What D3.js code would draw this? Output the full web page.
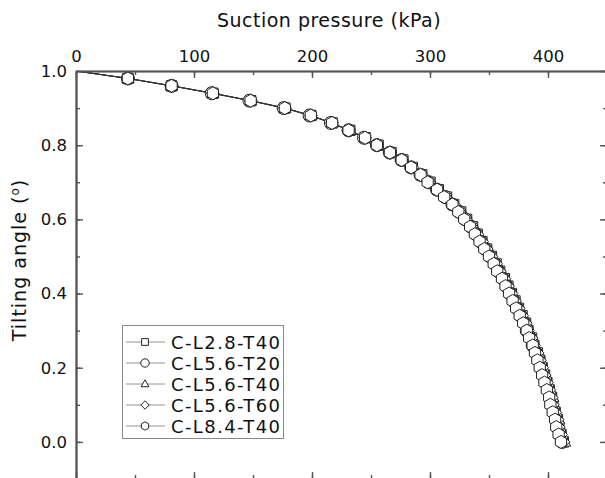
<!DOCTYPE html>
<html>
<head>
<meta charset="utf-8">
<script src="https://cdn.jsdelivr.net/npm/d3@7"></script>
<style>
  body { margin: 0; background: #fff; }
  svg { display: block; font-family: "DejaVu Sans", Verdana, sans-serif; }
</style>
</head>
<body>
<svg></svg>
<script>
var width = 605, height = 478;
var svg = d3.select("svg").attr("width", width).attr("height", height);

// tilting angle (deg), shared by every series
var tilt = [1.00, 0.98, 0.96, 0.94, 0.92, 0.90, 0.88, 0.86, 0.84, 0.82,
            0.80, 0.78, 0.76, 0.74, 0.72, 0.70, 0.68, 0.66, 0.64, 0.62,
            0.60, 0.58, 0.56, 0.54, 0.52, 0.50, 0.48, 0.46, 0.44, 0.42,
            0.40, 0.38, 0.36, 0.34, 0.32, 0.30, 0.28, 0.26, 0.24, 0.22,
            0.20, 0.18, 0.16, 0.14, 0.12, 0.10, 0.08, 0.06, 0.04, 0.02, 0.00];

// suction pressure (kPa) per series
var sL28T40 = [0, 44, 81, 116, 148, 177, 199, 217, 232, 245, 256, 267, 277, 285, 293, 300, 307, 314, 320, 326,
               331, 336, 340, 344, 348, 352, 356, 359, 363, 366, 369, 372, 375, 378, 381, 383, 386, 388, 391, 393,
               395, 397, 399, 401, 403, 404, 406, 408, 409, 411, 413];
var sL56T20 = [0, 44, 81, 115, 147, 176, 198, 216, 231, 244, 255, 266, 276, 284, 292, 299, 306, 313, 319, 325,
               330, 335, 339, 343, 347, 351, 355, 358, 362, 365, 368, 371, 374, 377, 380, 382, 385, 387, 390, 392,
               394, 396, 398, 400, 402, 403, 405, 407, 408, 410, 412];
var sL56T40 = [0, 44, 81, 116, 148, 177, 199, 217, 232, 245, 256, 267, 277, 285, 293, 300, 307, 314, 320, 326,
               331, 336, 341, 345, 349, 353, 357, 360, 364, 367, 370, 373, 376, 379, 382, 384, 387, 389, 392, 394,
               396, 398, 400, 402, 404, 405, 407, 409, 410, 412, 414];
var sL56T60 = [0, 44, 81, 116, 148, 177, 199, 217, 231, 245, 255, 266, 276, 285, 293, 299, 306, 313, 320, 325,
               330, 335, 340, 344, 348, 352, 356, 359, 363, 366, 369, 372, 375, 378, 381, 383, 386, 388, 391, 393,
               395, 397, 399, 401, 403, 404, 406, 408, 409, 411, 413];
var sL84T40 = [0, 44, 81, 116, 148, 177, 199, 217, 231, 245, 255, 266, 276, 284, 292, 298, 306, 312, 319, 324,
               329, 334, 338, 342, 346, 350, 354, 357, 361, 364, 367, 370, 373, 376, 379, 382, 384, 387, 389, 391,
               393, 395, 397, 399, 401, 402, 404, 406, 407, 409, 411];

var names = ["C-L2.8-T40", "C-L5.6-T20", "C-L5.6-T40", "C-L5.6-T60", "C-L8.4-T40"];
var symbols = ["square", "circle", "triangle", "diamond", "hexagon"];
var suction = [sL28T40, sL56T20, sL56T40, sL56T60, sL84T40];

var xTicks = [0, 100, 200, 300, 400];
var yTicks = [0.0, 0.2, 0.4, 0.6, 0.8, 1.0];

var pLeft = 76, pTop = 71, pRight = 607, pBottom = 479;
var x = d3.scaleLinear().domain([0, 450]).range([pLeft, pRight]);
var y = d3.scaleLinear().domain([-0.1, 1.0]).range([pBottom, pTop]);

var axisColor = "#555";

function shapePath(type, r) {
    var p = d3.path();
    if (type == "square") {
        p.rect(-r * 0.8, -r * 0.8, r * 1.6, r * 1.6);
    } else if (type == "circle") {
        p.arc(0, 0, r, 0, 2 * Math.PI);
    } else if (type == "triangle") {
        p.moveTo(0, -r); p.lineTo(r * 0.95, r * 0.65); p.lineTo(-r * 0.95, r * 0.65); p.closePath();
    } else if (type == "diamond") {
        p.moveTo(0, -r); p.lineTo(r, 0); p.lineTo(0, r); p.lineTo(-r, 0); p.closePath();
    } else {
        for (var i = 0; i < 6; i++) {
            var a = Math.PI / 3 * i - Math.PI / 2;
            if (i == 0) p.moveTo(r * Math.cos(a), r * Math.sin(a));
            else p.lineTo(r * Math.cos(a), r * Math.sin(a));
        }
        p.closePath();
    }
    return p.toString();
}

svg.append("defs").append("clipPath").attr("id", "plot")
    .append("rect").attr("x", pLeft).attr("y", pTop)
    .attr("width", pRight - pLeft).attr("height", pBottom - pTop);

// series
var series = names.map(function (n, i) {
    return {
        name: n, symbol: symbols[i],
        points: tilt.map(function (t, j) { return { s: suction[i][j], t: t }; })
    };
});

var line = d3.line().x(function (d) { return x(d.s); }).y(function (d) { return y(d.t); });

var g = svg.append("g").attr("clip-path", "url(#plot)");
series.forEach(function (sr) {
    g.append("path")
        .attr("d", line(sr.points))
        .attr("fill", "none")
        .attr("stroke", "#333")
        .attr("stroke-width", 0.8);
});
series.forEach(function (sr) {
    g.selectAll(null)
        .data(sr.points.filter(function (d) { return d.s > 0; }))
        .enter().append("path")
        .attr("transform", function (d) { return "translate(" + x(d.s) + "," + y(d.t) + ")"; })
        .attr("d", shapePath(sr.symbol, 6.5))
        .attr("fill", "#fff")
        .attr("stroke", "#222")
        .attr("stroke-width", 1);
});

// axes with inward ticks
function styleAxis(sel) {
    sel.select(".domain").attr("stroke", axisColor).attr("stroke-width", 1.6);
    sel.selectAll(".tick line").attr("stroke", axisColor).attr("stroke-width", 1.4);
    sel.selectAll("text").attr("fill", "#111").style("font-size", "16.5px")
        .style("font-family", "'DejaVu Sans', sans-serif");
}
var xMinor = d3.range(0, 451, 50);
var yMinor = d3.range(-0.1, 1.01, 0.1);

svg.append("g").attr("transform", "translate(0," + pTop + ")")
    .call(d3.axisBottom(x).tickValues(xMinor).tickSize(4).tickFormat("").tickSizeOuter(0)).call(styleAxis);
svg.append("g").attr("transform", "translate(0," + pTop + ")")
    .call(d3.axisBottom(x).tickValues(xTicks).tickSize(7).tickFormat("").tickSizeOuter(0)).call(styleAxis);
svg.append("g").attr("transform", "translate(0," + pTop + ")")
    .call(d3.axisTop(x).tickValues(xTicks).tickSize(0).tickPadding(9).tickFormat(d3.format("d")).tickSizeOuter(0))
    .call(styleAxis);

svg.append("g").attr("transform", "translate(0," + pBottom + ")")
    .call(d3.axisTop(x).tickValues(xMinor).tickSize(4).tickFormat("").tickSizeOuter(0)).call(styleAxis);
svg.append("g").attr("transform", "translate(0," + pBottom + ")")
    .call(d3.axisTop(x).tickValues(xTicks).tickSize(7).tickFormat("").tickSizeOuter(0)).call(styleAxis);

svg.append("g").attr("transform", "translate(" + pLeft + ",0)")
    .call(d3.axisRight(y).tickValues(yMinor).tickSize(4).tickFormat("").tickSizeOuter(0)).call(styleAxis);
svg.append("g").attr("transform", "translate(" + pLeft + ",0)")
    .call(d3.axisRight(y).tickValues(yTicks).tickSize(7).tickFormat("").tickSizeOuter(0)).call(styleAxis);
svg.append("g").attr("transform", "translate(" + pLeft + ",0)")
    .call(d3.axisLeft(y).tickValues(yTicks).tickSize(0).tickPadding(9).tickFormat(d3.format(".1f")).tickSizeOuter(0))
    .call(styleAxis);

svg.append("g").attr("transform", "translate(" + pRight + ",0)")
    .call(d3.axisLeft(y).tickValues(yMinor).tickSize(4).tickFormat("").tickSizeOuter(0)).call(styleAxis);
svg.append("g").attr("transform", "translate(" + pRight + ",0)")
    .call(d3.axisLeft(y).tickValues(yTicks).tickSize(7).tickFormat("").tickSizeOuter(0)).call(styleAxis);

// axis titles
svg.append("text")
    .attr("x", 329).attr("y", 27)
    .attr("text-anchor", "middle")
    .style("font-size", "19px").style("letter-spacing", "0.5px").attr("fill", "#111")
    .text("Suction pressure (kPa)");

var yl = svg.append("text")
    .attr("transform", "translate(26,260) rotate(-90)")
    .attr("text-anchor", "middle")
    .style("font-size", "19px").style("letter-spacing", "1px").attr("fill", "#111");
yl.append("tspan").text("Tilting angle (");
yl.append("tspan").attr("baseline-shift", "super").style("font-size", "12px").text("o");
yl.append("tspan").text(")");

// legend
var lg = svg.append("g");
lg.append("rect")
    .attr("x", 122.5).attr("y", 325.5).attr("width", 161).attr("height", 113)
    .attr("fill", "#fff").attr("stroke", "#888").attr("stroke-width", 1);
series.forEach(function (sr, i) {
    var cy = 342 + i * 21;
    lg.append("line").attr("x1", 126).attr("x2", 165).attr("y1", cy).attr("y2", cy)
        .attr("stroke", "#777").attr("stroke-width", 0.8);
    lg.append("path").attr("transform", "translate(145," + cy + ")")
        .attr("d", shapePath(sr.symbol, 4.2))
        .attr("fill", "#fff").attr("stroke", "#222").attr("stroke-width", 1);
    lg.append("text").attr("x", 171).attr("y", cy + 6.5)
        .style("font-size", "18px").style("letter-spacing", "1.4px").attr("fill", "#111")
        .text(sr.name);
});
</script>
</body>
</html>
